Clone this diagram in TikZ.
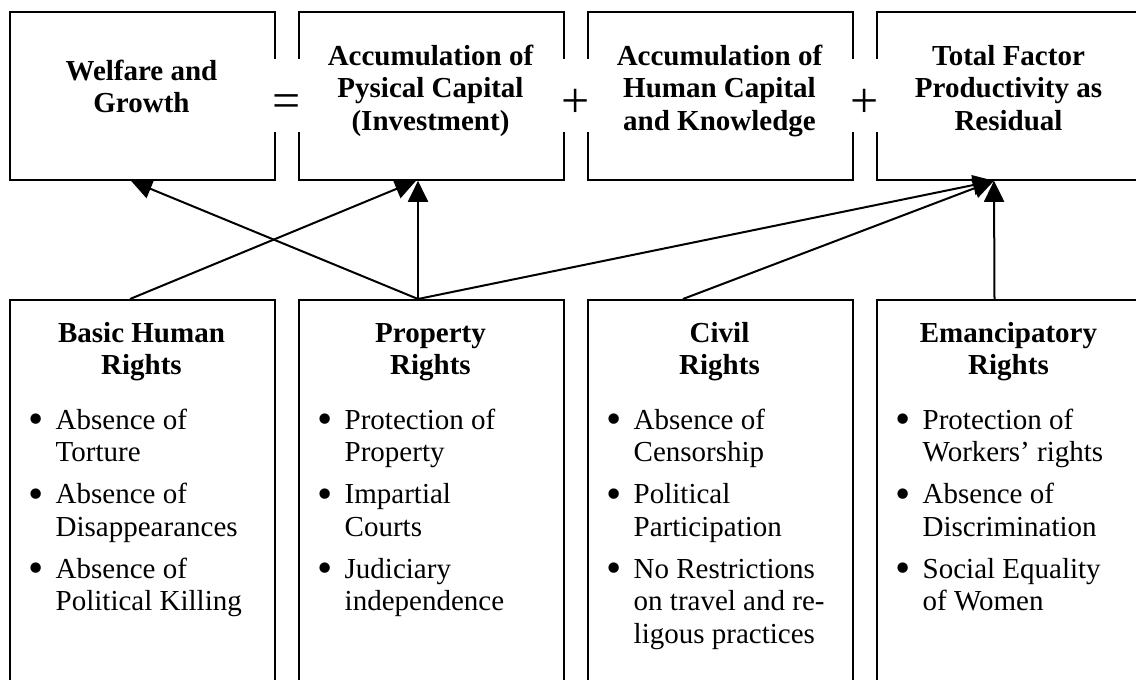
\documentclass[tikz,border=0pt]{standalone}
\usepackage{fontspec}
\setmainfont{Liberation Serif}
\usetikzlibrary{arrows.meta,calc}
\newcommand{\bul}{\leavevmode\llap{\raisebox{-4.5pt}{\scalebox{1.5}{\textbullet}}\hskip11.5pt}}
\begin{document}
\begin{tikzpicture}[x=1pt,y=-1pt,
  box/.style={draw=black, line width=1.8pt, minimum width=265pt, inner sep=0pt, anchor=north west},
  topbox/.style={box, minimum height=168pt},
  botbox/.style={box, minimum height=440pt},
  ttl/.style={anchor=base, inner sep=0pt, font=\fontsize{29}{32.5}\selectfont\bfseries},
  lst/.style={anchor=base west, inner sep=0pt, font=\fontsize{29}{32.5}\selectfont},
  sym/.style={fill=white, inner sep=0pt, minimum width=30pt, text height=58pt, text depth=15pt, font=\fontsize{50}{54}\selectfont},
  arr/.style={line width=2pt, -{Triangle[length=21pt,width=20pt]}}
]
\useasboundingbox (0,0) rectangle (1136,680);
\fill[white] (0,0) rectangle (1136,680);
\clip (0,0) rectangle (1136,680);

% top boxes
\node[topbox] (a1) at (9,11) {};
\node[topbox] (a2) at (298,11) {};
\node[topbox] (a3) at (587,11) {};
\node[topbox] (a4) at (876,11) {};

\node[ttl] (a1t) at ($(a1.north west)+(132.5,69)$) {\begin{minipage}[t]{265pt}\centering Welfare and\\Growth\end{minipage}};
\node[ttl] (a2t) at ($(a2.north west)+(132.5,54)$) {\begin{minipage}[t]{265pt}\centering Accumulation of\\Pysical Capital\\(Investment)\end{minipage}};
\node[ttl] (a3t) at ($(a3.north west)+(132.5,54)$) {\begin{minipage}[t]{265pt}\centering Accumulation of\\Human Capital\\and Knowledge\end{minipage}};
\node[ttl] (a4t) at ($(a4.north west)+(132.5,54)$) {\begin{minipage}[t]{265pt}\centering Total Factor\\Productivity as\\Residual\end{minipage}};

% operators
\coordinate (g1) at ($(a1.north east)!0.5!(a2.north west)+(0,84.5)$);
\coordinate (g2) at ($(a2.north east)!0.5!(a3.north west)+(0,84.5)$);
\coordinate (g3) at ($(a3.north east)!0.5!(a4.north west)+(0,84.5)$);
\node[sym] (eq) at (g1) {=};
\node[sym] (p1) at (g2) {+};
\node[sym] (p2) at (g3) {+};

% bottom boxes
\node[botbox] (b1) at (9,299) {};
\node[botbox] (b2) at (298,299) {};
\node[botbox] (b3) at (587,299) {};
\node[botbox] (b4) at (876,299) {};

\node[ttl] (b1t) at ($(b1.north west)+(132.5,43)$) {\begin{minipage}[t]{265pt}\centering Basic Human\\Rights\end{minipage}};
\node[ttl] (b2t) at ($(b2.north west)+(132.5,43)$) {\begin{minipage}[t]{265pt}\centering Property\\Rights\end{minipage}};
\node[ttl] (b3t) at ($(b3.north west)+(132.5,43)$) {\begin{minipage}[t]{265pt}\centering Civil\\Rights\end{minipage}};
\node[ttl] (b4t) at ($(b4.north west)+(132.5,43)$) {\begin{minipage}[t]{265pt}\centering Emancipatory\\Rights\end{minipage}};

\node[lst] (b1l) at ($(b1.north west)+(46.5,130)$) {\begin{minipage}[t]{240pt}\raggedright
\bul Absence of\\Torture\par\vskip9.5pt
\bul Absence of\\Disappearances\par\vskip9.5pt
\bul Absence of\\Political Killing\end{minipage}};
\node[lst] (b2l) at ($(b2.north west)+(46.5,130)$) {\begin{minipage}[t]{240pt}\raggedright
\bul Protection of\\Property\par\vskip9.5pt
\bul Impartial\\Courts\par\vskip9.5pt
\bul Judiciary\\independence\end{minipage}};
\node[lst] (b3l) at ($(b3.north west)+(46.5,130)$) {\begin{minipage}[t]{240pt}\raggedright
\bul Absence of\\Censorship\par\vskip9.5pt
\bul Political\\Participation\par\vskip9.5pt
\bul No Restrictions\\on travel and re-\\ligous practices\end{minipage}};
\node[lst] (b4l) at ($(b4.north west)+(46.5,130)$) {\begin{minipage}[t]{240pt}\raggedright
\bul Protection of\\Workers’ rights\par\vskip9.5pt
\bul Absence of\\Discrimination\par\vskip9.5pt
\bul Social Equality\\of Women\end{minipage}};

% connectors
\coordinate (s1) at ($(b1.north west)+(121,0)$);
\coordinate (s2) at ($(b2.north west)+(120,0)$);
\coordinate (s3) at ($(b3.north west)+(96,0)$);
\coordinate (s4) at ($(b4.north west)+(118.5,0)$);
\coordinate (e1) at ($(a1.south west)+(122,0)$);
\coordinate (e2) at ($(a2.south west)+(118,0)$);
\coordinate (e2v) at ($(a2.south west)+(120,0)$);
\coordinate (e4) at ($(a4.south west)+(118,0)$);
\draw[arr] (s1) -- (e2);
\draw[arr] (s2) -- (e1);
\draw[arr] (s2) -- (e2v);
\draw[arr] (s2) -- (e4);
\draw[arr] (s3) -- (e4);
\draw[arr] (s4) -- (e4);
\end{tikzpicture}
\end{document}
